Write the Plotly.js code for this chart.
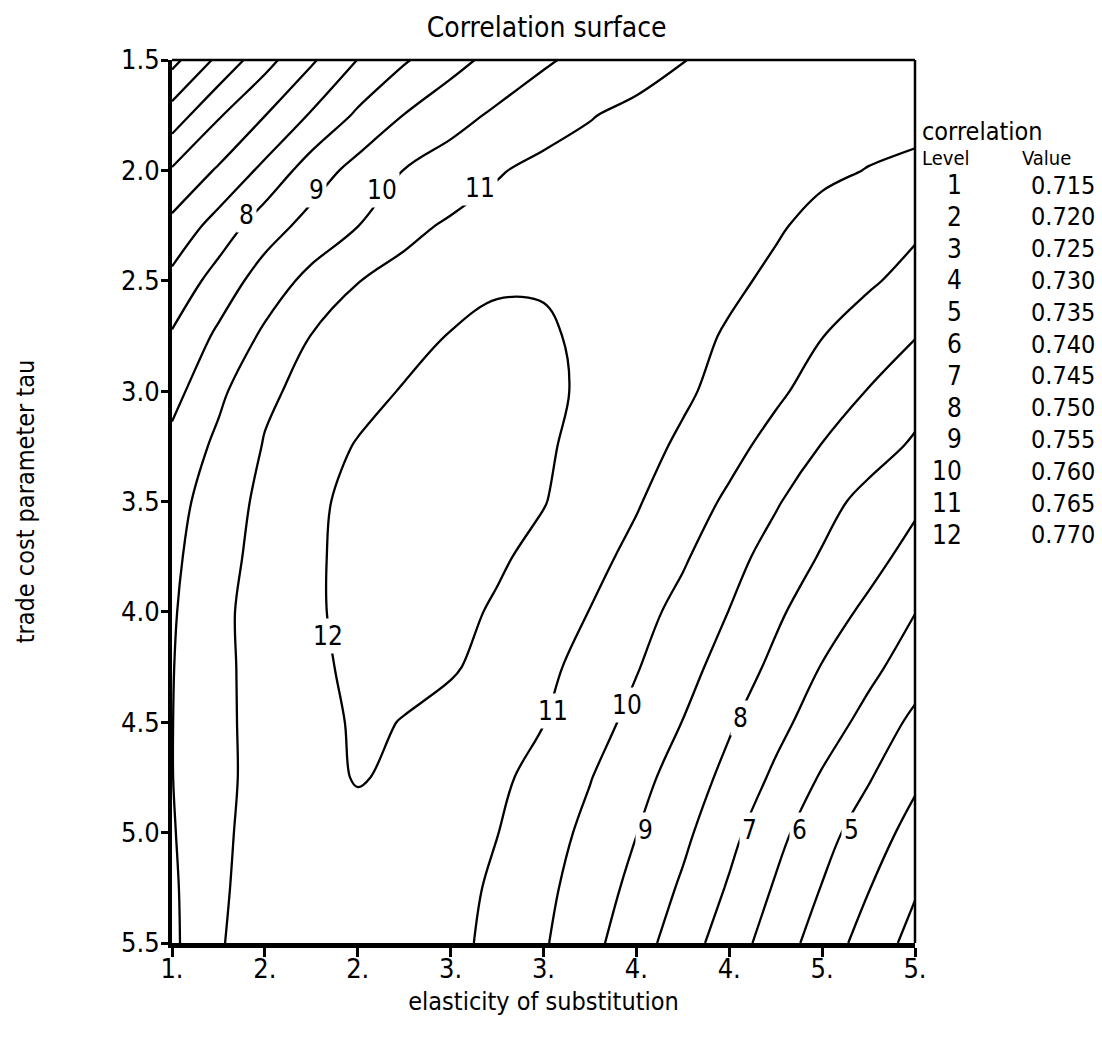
<!DOCTYPE html>
<html>
<head>
<meta charset="utf-8">
<script src="https://cdn.plot.ly/plotly-3.0.1.min.js"></script>
<style>html,body{margin:0;padding:0;background:#fff;}#chart{width:1102px;height:1050px;}</style>
</head>
<body>
<div id="chart"></div>
<script>
// elasticity of substitution (x grid)
const sigma = [1.00, 1.25, 1.50, 1.75, 2.00, 2.25, 2.50, 2.75, 3.00, 3.25, 3.50, 3.75, 4.00, 4.25, 4.50, 4.75, 5.00];
// trade cost parameter tau (y grid)
const tau = [1.50, 1.75, 2.00, 2.25, 2.50, 2.75, 3.00, 3.25, 3.50, 3.75, 4.00, 4.25, 4.50, 4.75, 5.00, 5.25, 5.50];

// correlation values, one row per tau value
const corr_t150 = [0.7185, 0.7261, 0.7333, 0.7393, 0.7451, 0.7495, 0.7533, 0.7566, 0.7594, 0.7614, 0.7632, 0.7649, 0.7660, 0.7665, 0.7668, 0.7668, 0.7665];
const corr_t175 = [0.7272, 0.7345, 0.7399, 0.7455, 0.7508, 0.7551, 0.7582, 0.7608, 0.7627, 0.7648, 0.7660, 0.7668, 0.7672, 0.7672, 0.7668, 0.7662, 0.7656];
const corr_t200 = [0.7355, 0.7406, 0.7463, 0.7524, 0.7567, 0.7601, 0.7623, 0.7646, 0.7663, 0.7665, 0.7670, 0.7672, 0.7671, 0.7667, 0.7656, 0.7649, 0.7646];
const corr_t225 = [0.7413, 0.7470, 0.7527, 0.7567, 0.7599, 0.7638, 0.7656, 0.7668, 0.7672, 0.7675, 0.7673, 0.7668, 0.7661, 0.7654, 0.7640, 0.7624, 0.7608];
const corr_t250 = [0.7463, 0.7521, 0.7573, 0.7614, 0.7649, 0.7664, 0.7680, 0.7694, 0.7696, 0.7687, 0.7675, 0.7663, 0.7657, 0.7643, 0.7624, 0.7606, 0.7585];
const corr_t275 = [0.7505, 0.7559, 0.7609, 0.7651, 0.7668, 0.7685, 0.7702, 0.7712, 0.7706, 0.7691, 0.7677, 0.7662, 0.7646, 0.7624, 0.7601, 0.7577, 0.7552];
const corr_t300 = [0.7534, 0.7589, 0.7642, 0.7663, 0.7685, 0.7703, 0.7712, 0.7716, 0.7710, 0.7692, 0.7674, 0.7657, 0.7635, 0.7609, 0.7579, 0.7548, 0.7520];
const corr_t325 = [0.7563, 0.7611, 0.7653, 0.7680, 0.7703, 0.7712, 0.7718, 0.7718, 0.7706, 0.7686, 0.7665, 0.7643, 0.7615, 0.7583, 0.7548, 0.7521, 0.7493];
const corr_t350 = [0.7582, 0.7625, 0.7662, 0.7691, 0.7712, 0.7716, 0.7718, 0.7714, 0.7702, 0.7677, 0.7654, 0.7624, 0.7592, 0.7555, 0.7517, 0.7485, 0.7458];
const corr_t375 = [0.7590, 0.7633, 0.7666, 0.7694, 0.7712, 0.7714, 0.7714, 0.7706, 0.7688, 0.7664, 0.7638, 0.7606, 0.7568, 0.7530, 0.7496, 0.7465, 0.7435];
const corr_t400 = [0.7595, 0.7640, 0.7668, 0.7694, 0.7712, 0.7712, 0.7712, 0.7695, 0.7674, 0.7649, 0.7618, 0.7585, 0.7549, 0.7509, 0.7470, 0.7441, 0.7401];
const corr_t425 = [0.7598, 0.7640, 0.7666, 0.7690, 0.7710, 0.7707, 0.7705, 0.7684, 0.7661, 0.7634, 0.7603, 0.7568, 0.7529, 0.7488, 0.7448, 0.7413, 0.7375];
const corr_t450 = [0.7599, 0.7640, 0.7665, 0.7687, 0.7705, 0.7699, 0.7684, 0.7668, 0.7651, 0.7620, 0.7586, 0.7549, 0.7506, 0.7465, 0.7425, 0.7384, 0.7338];
const corr_t475 = [0.7599, 0.7640, 0.7664, 0.7685, 0.7703, 0.7692, 0.7675, 0.7659, 0.7635, 0.7602, 0.7567, 0.7528, 0.7486, 0.7441, 0.7395, 0.7354, 0.7309];
const corr_t500 = [0.7596, 0.7644, 0.7662, 0.7678, 0.7686, 0.7684, 0.7674, 0.7651, 0.7621, 0.7588, 0.7551, 0.7511, 0.7464, 0.7415, 0.7368, 0.7325, 0.7282];
const corr_t525 = [0.7592, 0.7646, 0.7662, 0.7674, 0.7680, 0.7677, 0.7667, 0.7642, 0.7612, 0.7576, 0.7536, 0.7493, 0.7445, 0.7395, 0.7348, 0.7302, 0.7255];
const corr_t550 = [0.7590, 0.7648, 0.7662, 0.7672, 0.7676, 0.7673, 0.7663, 0.7637, 0.7605, 0.7564, 0.7521, 0.7474, 0.7424, 0.7376, 0.7327, 0.7279, 0.7233];

// contour levels (legend)
const levelNumber = [1, 2, 3, 4, 5, 6, 7, 8, 9, 10, 11, 12];
const levelValue = [0.715, 0.720, 0.725, 0.730, 0.735, 0.740, 0.745, 0.750, 0.755, 0.760, 0.765, 0.770];

// where each contour label sits (data units)
const labelLevel = [8, 9, 10, 11, 12, 11, 10, 8, 9, 7, 6, 5];
const labelSigma = [1.40, 1.78, 2.13, 2.66, 1.84, 3.05, 3.45, 4.06, 3.55, 4.11, 4.38, 4.66];
const labelTau   = [2.20, 2.09, 2.09, 2.08, 4.11, 4.45, 4.42, 4.48, 4.99, 4.99, 4.99, 4.99];

// tick labels
const xTickVals = [1.0, 1.5, 2.0, 2.5, 3.0, 3.5, 4.0, 4.5, 5.0];
const xTickText = ['1.', '2.', '2.', '3.', '3.', '4.', '4.', '5.', '5.'];
const yTickVals = [1.5, 2.0, 2.5, 3.0, 3.5, 4.0, 4.5, 5.0, 5.5];
const yTickText = ['1.5', '2.0', '2.5', '3.0', '3.5', '4.0', '4.5', '5.0', '5.5'];

const corr = [corr_t150, corr_t175, corr_t200, corr_t225, corr_t250, corr_t275, corr_t300, corr_t325,
              corr_t350, corr_t375, corr_t400, corr_t425, corr_t450, corr_t475, corr_t500, corr_t525, corr_t550];

// express correlation in "level number" units so levels are 1..12
const step = levelValue[1] - levelValue[0];
const zLevel = corr.map(r => r.map(v => levelNumber[0] + (v - levelValue[0]) / step));

const FONT = "'Liberation Sans Narrow', 'DejaVu Sans Condensed', 'Liberation Sans', Arial, sans-serif";

const trace = {
  type: 'contour',
  x: sigma,
  y: tau,
  z: zLevel,
  autocontour: false,
  contours: {
    start: levelNumber[0], end: levelNumber[levelNumber.length - 1], size: 1,
    coloring: 'lines', showlabels: false
  },
  colorscale: [[0, '#000'], [1, '#000']],
  line: {width: 2.3, smoothing: 1.0},
  showscale: false,
  hoverinfo: 'skip'
};

// legend block on the right (paper coords derived from pixel layout)
const L = 172, R = 915, T = 60, B = 943;
const px = v => (v - L) / (R - L);
const py = v => (B - v) / (B - T);
const ann = [];
ann.push({text: 'correlation', x: px(920), y: py(131), xref: 'paper', yref: 'paper', xanchor: 'left', yanchor: 'middle', showarrow: false, font: {family: FONT, size: 25, color: '#000'}});
ann.push({text: 'Level', x: px(920), y: py(158), xref: 'paper', yref: 'paper', xanchor: 'left', yanchor: 'middle', showarrow: false, font: {family: FONT, size: 20, color: '#000'}});
ann.push({text: 'Value', x: px(1020), y: py(158), xref: 'paper', yref: 'paper', xanchor: 'left', yanchor: 'middle', showarrow: false, font: {family: FONT, size: 20, color: '#000'}});
levelNumber.forEach((n, i) => {
  const yy = py(185 + i * 31.8);
  ann.push({text: String(n), x: px(964), y: yy, xref: 'paper', yref: 'paper', xanchor: 'right', yanchor: 'middle', showarrow: false, font: {family: FONT, size: 26, color: '#000'}});
  ann.push({text: levelValue[i].toFixed(3), x: px(1097), y: yy, xref: 'paper', yref: 'paper', xanchor: 'right', yanchor: 'middle', showarrow: false, font: {family: FONT, size: 25, color: '#000'}});
});
// contour labels (level numbers), upright with a white box breaking the line
labelLevel.forEach((n, i) => {
  ann.push({text: String(n), x: labelSigma[i], y: labelTau[i], xref: 'x', yref: 'y', xanchor: 'center', yanchor: 'middle',
            showarrow: false, bgcolor: '#fff', borderpad: 2, font: {family: FONT, size: 26, color: '#000'}});
});

const layout = {
  width: 1102, height: 1050,
  margin: {l: L, r: 1102 - R, t: T, b: 1050 - B, pad: 0},
  paper_bgcolor: '#fff', plot_bgcolor: '#fff',
  showlegend: false,
  title: {text: 'Correlation surface', font: {family: FONT, size: 28, color: '#000'},
          x: 0.496, xref: 'container', xanchor: 'center', y: 1 - 27 / 1050, yref: 'container', yanchor: 'middle'},
  xaxis: {
    range: [1, 5], tickvals: xTickVals, ticktext: xTickText,
    ticks: 'outside', ticklen: 9, tickwidth: 3, tickcolor: '#000',
    showline: true, linewidth: 5, linecolor: '#000', mirror: false,
    showgrid: false, zeroline: false, ticklabelstandoff: -11,
    tickfont: {family: FONT, size: 27, color: '#000'},
    title: {text: 'elasticity of substitution', font: {family: FONT, size: 25, color: '#000'}, standoff: 11}
  },
  yaxis: {
    range: [5.5, 1.5], tickvals: yTickVals, ticktext: yTickText,
    ticks: 'outside', ticklen: 7, tickwidth: 3, tickcolor: '#000',
    showline: true, linewidth: 4, linecolor: '#000', mirror: false,
    showgrid: false, zeroline: false, ticklabelstandoff: -4,
    tickfont: {family: FONT, size: 27, color: '#000'},
    title: {text: 'trade cost parameter tau', font: {family: FONT, size: 25, color: '#000'}, standoff: 80}
  },
  shapes: [
    {type: 'line', xref: 'paper', yref: 'paper', x0: 0, x1: 1, y0: 1, y1: 1, line: {color: '#000', width: 2.5}},
    {type: 'line', xref: 'paper', yref: 'paper', x0: 1, x1: 1, y0: 0, y1: 1, line: {color: '#000', width: 2.5}}
  ],
  annotations: ann
};

Plotly.newPlot('chart', [trace], layout, {displayModeBar: false, staticPlot: true});
</script>
</body>
</html>
